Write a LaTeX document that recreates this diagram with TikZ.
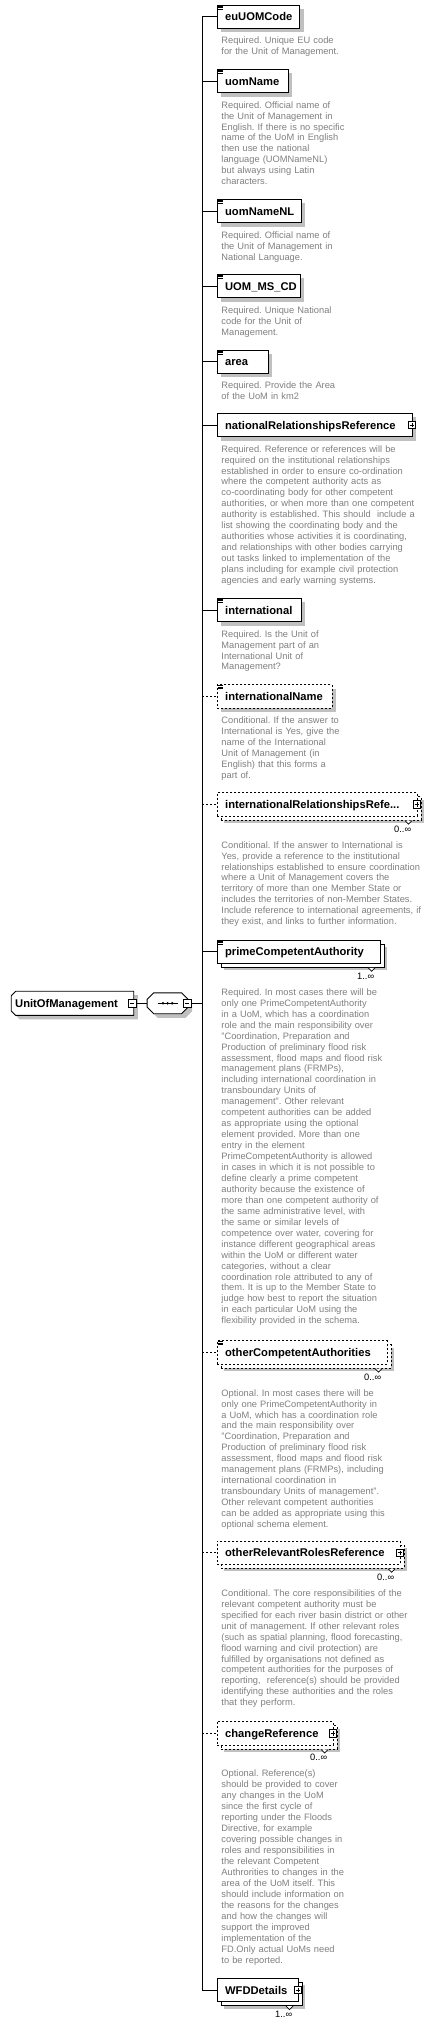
\documentclass[tikz,border=0pt]{standalone}
\usepackage{fontspec}
\setmainfont{Liberation Sans}
\usetikzlibrary{positioning,calc}
\frenchspacing

\definecolor{shadowgray}{RGB}{192,192,192}
\definecolor{descgray}{RGB}{128,128,128}
\newcommand{\titlefont}{\fontsize{11.2}{13}\selectfont\bfseries}
\newcommand{\descfont}{\fontsize{9.3}{10.95}\selectfont}

\tikzset{
  boxdash/.style={dash pattern=on 2pt off 2pt},
  dropshadow/.style={preaction={fill=shadowgray,draw=none,transform canvas={xshift=4pt,yshift=-4pt}}},
  multi/.style={preaction={fill=shadowgray,draw=none,transform canvas={xshift=7pt,yshift=-7pt}},
                preaction={draw,#1,fill=white,transform canvas={xshift=4pt,yshift=-4pt}}},
  multi/.default=solid,
  elem/.style={draw,fill=white,anchor=west,minimum height=23.3pt,inner xsep=8pt,inner ysep=0pt,
               text width=#1,align=left,font=\titlefont,text height=8.1pt,text depth=0pt},
  desc/.style={anchor=base west,inner sep=0pt,text width=214pt,align=left,font=\descfont,text=descgray},
  occ/.style={anchor=base east,inner sep=0pt,font=\descfont},
  pm/.style={draw,solid,fill=white,minimum size=7.5pt,inner sep=0pt},
  plus/.style={pm,path picture={
      \draw[line width=0.7pt] ([xshift=-2.2pt]path picture bounding box.center) -- ([xshift=2.2pt]path picture bounding box.center)
        ([yshift=-2.2pt]path picture bounding box.center) -- ([yshift=2.2pt]path picture bounding box.center);}},
  minus/.style={pm,path picture={
      \draw[line width=0.7pt] ([xshift=-2.2pt]path picture bounding box.center) -- ([xshift=2.2pt]path picture bounding box.center);}},
}

\begin{document}
\begin{tikzpicture}[x=1pt,y=-1pt,line width=0.9pt]
  \useasboundingbox[fill=white] (0,0) rectangle (435,2027);

  % root element and sequence
  \node[minimum width=121.6pt,minimum height=23.3pt,inner sep=0pt] (uom) at (72.5,1003.3) {};
  \draw[fill=white,dropshadow] ([xshift=4.5pt]uom.north west) -- (uom.north east) -- (uom.south east)
    -- ([xshift=4.5pt]uom.south west) -- ([yshift=4.5pt]uom.south west) -- ([yshift=-4.5pt]uom.north west) -- cycle;
  \node[anchor=west,inner sep=0pt,font=\titlefont,text height=8.1pt,text depth=0pt] (uomTitle) at ([xshift=3.5pt]uom.west) {UnitOfManagement};
  \node[minus] (uomMinus) at ([xshift=-1.5pt]uom.east) {};

  \node[minimum width=40pt,minimum height=20pt,inner sep=0pt,right=13.4pt of uom] (seq) {};
  \draw[fill=white,dropshadow] ([xshift=6.5pt]seq.north west) -- ([xshift=-6.5pt]seq.north east)
    -- ([yshift=-6.5pt]seq.north east) -- ([yshift=6.5pt]seq.south east) -- ([xshift=-6.5pt]seq.south east)
    -- ([xshift=6.5pt]seq.south west) -- ([yshift=6.5pt]seq.south west) -- ([yshift=-6.5pt]seq.north west) -- cycle;
  \draw ([xshift=-10pt]seq.center) -- ([xshift=10pt]seq.center);
  \foreach \d in {-4.6,0,4.6}
    {\fill ([xshift=\d pt]seq.center) circle (1.4);}
  \node[minus] (seqMinus) at ([xshift=-0.8pt]seq.east) {};
  \draw (uomMinus) -- (seq);

  % child elements
  \node[elem=66.5pt,dropshadow] (euCode) at (216.7,16.7) {euUOMCode};
  \node[desc] (euCodeDesc) at ([xshift=4.3pt,yshift=-15pt]euCode.south west)
    {Required. Unique EU code\\for the Unit of Management.};

  \node[elem=55pt,dropshadow] (uomName) at (216.7,81) {uomName};
  \node[desc] (uomNameDesc) at ([xshift=4.3pt,yshift=-15pt]uomName.south west)
    {Required. Official name of\\the Unit of Management in\\English. If there is no specific\\name of the UoM in English\\then use the national\\language (UOMNameNL)\\but always using Latin\\characters.};

  \node[elem=68pt,dropshadow] (uomNameNL) at (216.7,211) {uomNameNL};
  \node[desc] (uomNameNLDesc) at ([xshift=4.3pt,yshift=-15pt]uomNameNL.south west)
    {Required. Official name of\\the Unit of Management in\\National Language.};

  \node[elem=67pt,dropshadow] (msCode) at (216.7,286) {UOM\_MS\_CD};
  \node[desc] (msCodeDesc) at ([xshift=4.3pt,yshift=-15pt]msCode.south west)
    {Required. Unique National\\code for the Unit of\\Management.};

  \node[elem=35pt,dropshadow] (area) at (216.7,361.7) {area};
  \node[desc] (areaDesc) at ([xshift=4.3pt,yshift=-15pt]area.south west)
    {Required. Provide the Area\\of the UoM in km2};

  \node[elem=179pt,dropshadow] (natRel) at (216.7,425) {nationalRelationshipsReference};
  \node[desc] (natRelDesc) at ([xshift=4.3pt,yshift=-15pt]natRel.south west)
    {Required. Reference or references will be\\required on the institutional relationships\\established in order to ensure co-ordination\\where the competent authority acts as\\co-coordinating body for other competent\\authorities, or when more than one competent\\authority is established. This should \ include a\\list showing the coordinating body and the\\authorities whose activities it is coordinating,\\and relationships with other bodies carrying\\out tasks linked to implementation of the\\plans including for example civil protection\\agencies and early warning systems.};

  \node[elem=68pt,dropshadow] (intl) at (216.7,610) {international};
  \node[desc] (intlDesc) at ([xshift=4.3pt,yshift=-15pt]intl.south west)
    {Required. Is the Unit of\\Management part of an\\International Unit of\\Management?};

  \node[elem=99pt,boxdash,dropshadow] (intlName) at (216.7,696.5) {internationalName};
  \node[desc] (intlNameDesc) at ([xshift=4.3pt,yshift=-15pt]intlName.south west)
    {Conditional. If the answer to\\International is Yes, give the\\name of the International\\Unit of Management (in\\English) that this forms a\\part of.};

  \node[elem=184pt,boxdash,multi=boxdash] (intlRel) at (216.7,804.5) {internationalRelationshipsRefe...};
  \node[desc] (intlRelDesc) at ([xshift=4.3pt,yshift=-31.5pt]intlRel.south west)
    {Conditional. If the answer to International is\\Yes, provide a reference to the institutional\\relationships established to ensure coordination\\where a Unit of Management covers the\\territory of more than one Member State or\\includes the territories of non-Member States.\\Include reference to international agreements, if\\they exist, and links to further information.};

  \node[elem=147pt,multi] (primeCA) at (216.7,951.7) {primeCompetentAuthority};
  \node[desc] (primeCADesc) at ([xshift=4.3pt,yshift=-31.5pt]primeCA.south west)
    {Required. In most cases there will be\\only one PrimeCompetentAuthority\\in a UoM, which has a coordination\\role and the main responsibility over\\"Coordination, Preparation and\\Production of preliminary flood risk\\assessment, flood maps and flood risk\\management plans (FRMPs),\\including international coordination in\\transboundary Units of\\management". Other relevant\\competent authorities can be added\\as appropriate using the optional\\element provided. More than one\\entry in the element\\PrimeCompetentAuthority is allowed\\in cases in which it is not possible to\\define clearly a prime competent\\authority because the existence of\\more than one competent authority of\\the same administrative level, with\\the same or similar levels of\\competence over water, covering for\\instance different geographical areas\\within the UoM or different water\\categories, without a clear\\coordination role attributed to any of\\them. It is up to the Member State to\\judge how best to report the situation\\in each particular UoM using the\\flexibility provided in the schema.};

  \node[elem=154pt,boxdash,multi=boxdash] (otherCA) at (216.7,1352.5) {otherCompetentAuthorities};
  \node[desc] (otherCADesc) at ([xshift=4.3pt,yshift=-31.5pt]otherCA.south west)
    {Optional. In most cases there will be\\only one PrimeCompetentAuthority in\\a UoM, which has a coordination role\\and the main responsibility over\\"Coordination, Preparation and\\Production of preliminary flood risk\\assessment, flood maps and flood risk\\management plans (FRMPs), including\\international coordination in\\transboundary Units of management".\\Other relevant competent authorities\\can be added as appropriate using this\\optional schema element.};

  \node[elem=167pt,boxdash,multi=boxdash] (otherRoles) at (216.7,1552.7) {otherRelevantRolesReference};
  \node[desc] (otherRolesDesc) at ([xshift=4.3pt,yshift=-31.5pt]otherRoles.south west)
    {Conditional. The core responsibilities of the\\relevant competent authority must be\\specified for each river basin district or other\\unit of management. If other relevant roles\\(such as spatial planning, flood forecasting,\\flood warning and civil protection) are\\fulfilled by organisations not defined as\\competent authorities for the purposes of\\reporting, \ reference(s) should be provided\\identifying these authorities and the roles\\that they perform.};

  \node[elem=100pt,boxdash,multi=boxdash] (changeRef) at (216.7,1733.3) {changeReference};
  \node[desc] (changeRefDesc) at ([xshift=4.3pt,yshift=-31.5pt]changeRef.south west)
    {Optional. Reference(s)\\should be provided to cover\\any changes in the UoM\\since the first cycle of\\reporting under the Floods\\Directive, for example\\covering possible changes in\\roles and responsibilities in\\the relevant Competent\\Authrorities to changes in the\\area of the UoM itself. This\\should include information on\\the reasons for the changes\\and how the changes will\\support the improved\\implementation of the\\FD.Only actual UoMs need\\to be reported.};

  \node[elem=65pt,multi] (wfd) at (216.7,1990) {WFDDetails};

  % occurrences, expand boxes, icons
  \foreach \e/\n in {intlRel/0,primeCA/1,otherCA/0,otherRoles/0,changeRef/0,wfd/1}{
    \draw[solid,fill=white,line width=0.7pt] ([xshift=-12.5pt,yshift=-4pt]\e.south east) -- ++(3.5,3.5) -- ++(3.5,-3.5);
    \node[occ] (\e-occ) at ([xshift=-6pt,yshift=-15.5pt]\e.south east) {\n..∞};
  }
  \foreach \e in {natRel,intlRel,otherRoles,changeRef,wfd}
    {\node[plus] (\e-plus) at ([xshift=-0.5pt]\e.east) {};}
  \foreach \e in {euCode,uomName,uomNameNL,msCode,area,intl,intlName,primeCA,otherCA}
    \foreach \k in {1.2,2.7,4.2}
      {\draw[solid,line width=0.4pt] ([shift={(1.5,\k)}]\e.north west) -- ++(4.5,0);}

  % connectors
  \coordinate (trunk) at (202.3,0);
  \draw (trunk |- euCode.west) -- (trunk |- wfd.west);
  \draw (seqMinus.east) -- (trunk |- seqMinus.east);
  \foreach \e in {euCode,uomName,uomNameNL,msCode,area,natRel,intl,primeCA,wfd}
    {\draw (trunk |- \e.west) -- (\e.west);}
  \foreach \e in {intlName,intlRel,otherCA,otherRoles,changeRef}
    {\draw[boxdash] (trunk |- \e.west) -- (\e.west);}
\end{tikzpicture}
\end{document}
